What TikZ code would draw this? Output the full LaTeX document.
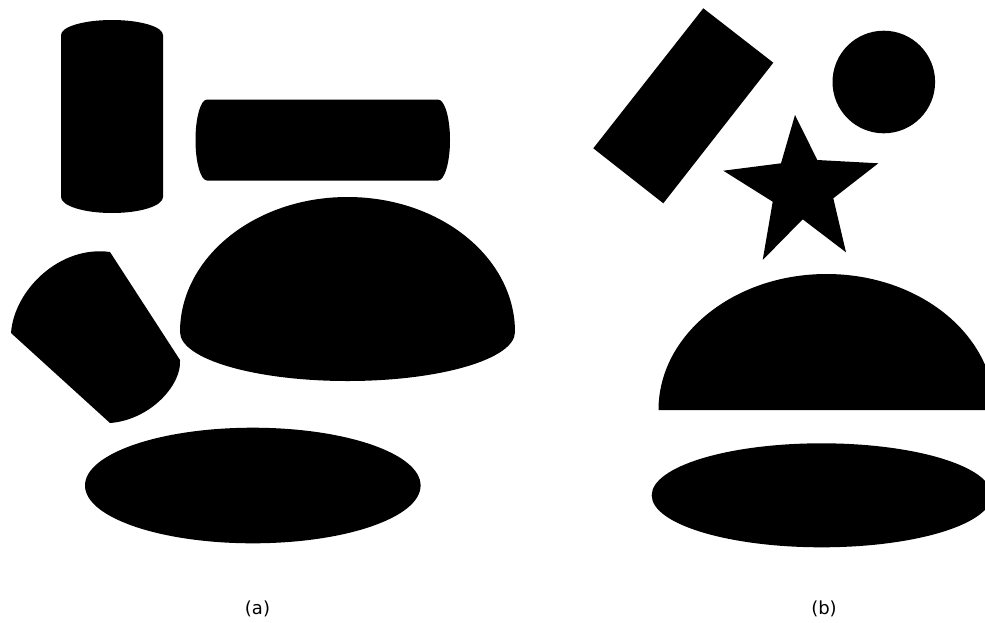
\documentclass[tikz,border=0pt]{standalone}
\usepackage{fontspec}
\setmainfont{DejaVu Sans}
\usepackage{tikz}
\tikzset{
  blob/.style={fill=black, draw=none},
  sublabel/.style={font=\fontsize{18}{22}\selectfont, inner sep=0pt, anchor=base},
}

\begin{document}
\begin{tikzpicture}[x=1pt, y=-1pt]
    \useasboundingbox[fill=white] (0,0) rectangle (985,622);
    \clip (0,0) rectangle (985,622);
    % (a)
    \fill[blob] (61,35) arc[start angle=180, end angle=0, x radius=51pt, y radius=15pt]
      -- (163,197) arc[start angle=0, end angle=-180, x radius=51pt, y radius=16pt] -- cycle;
    \fill[blob] (207,99.5) -- (438,99.5) arc[start angle=90, end angle=-90, x radius=12pt, y radius=40.5pt]
      -- (207,180.5) arc[start angle=270, end angle=90, x radius=11.5pt, y radius=40.5pt] -- cycle;
    \fill[blob] (11,333) .. controls (14,290) and (60,245) .. (110,252) -- (180,360)
      .. controls (182,385) and (150,420) .. (110,423) -- cycle;
    \fill[blob] (180,332) arc[start angle=180, end angle=0, x radius=167.5pt, y radius=135pt]
      arc[start angle=0, end angle=-180, x radius=167.5pt, y radius=49pt];
    \fill[blob] (252.8,485.5) ellipse[x radius=167.8pt, y radius=57.8pt];
    % (b)
    \fill[blob] (703.3,8.3) -- (773.3,62.7) -- (663.3,203.3) -- (593.3,148.3) -- cycle;
    \fill[blob] (883.8,82) circle[radius=51.3pt];
    \fill[blob] (795,115) -- (817.3,160) -- (878.3,163.3) -- (833.3,198.3) -- (846,252.3)
      -- (802.7,219.3) -- (762.7,260) -- (772.7,201.7) -- (723.3,170.7) -- (781,163.3) -- cycle;
    \fill[blob] (658.5,410) arc[start angle=180, end angle=0, x radius=168pt, y radius=136pt] -- cycle;
    \fill[blob] (821.7,495.3) ellipse[x radius=170pt, y radius=52pt];
    \node[sublabel] (lbla) at (257.5,614) {(a)};
    \node[sublabel] (lblb) at (824,614) {(b)};
\end{tikzpicture}
\end{document}
